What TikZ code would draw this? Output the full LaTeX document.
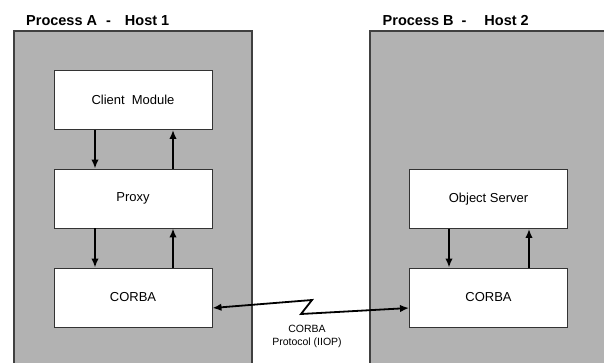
\documentclass[tikz,border=0pt]{standalone}
\usepackage{fontspec}
\setmainfont{Liberation Sans}
\usetikzlibrary{arrows.meta}
\usetikzlibrary{calc}
\tikzset{>={Latex[length=9pt,width=7.5pt]}}
\tikzset{
    host/.style={fill=black!30, draw=black!75, line width=1.2pt},
    module/.style={draw=black!80, fill=white, line width=0.9pt,
        minimum width=158pt, minimum height=59pt, inner sep=0pt,
        font=\fontsize{13}{15}\selectfont},
    flow/.style={->, line width=1.8pt},
    title/.style={anchor=west, inner sep=0pt, font=\fontsize{14.5}{17}\selectfont\bfseries},
}

\begin{document}
\begin{tikzpicture}[x=1pt, y=-1pt]
    \useasboundingbox (0,0) rectangle (604,363);
    \fill[white] (0,0) rectangle (604,363);
    \draw[host] (14,420) -- (14,31) -- (252,31) -- (252,420);
    \draw[host] (370,420) -- (370,31) -- (660,31) -- (660,420);
    \node[title] (titleA) at (26,21) {Process A\hspace{9pt}-\hspace{14pt}Host 1};
    \node[title] (titleB) at (382.5,21) {Process B\hspace{8pt}-\hspace{18pt}Host 2};

    \node[module] (client) at (133,100) {Client\hspace{7pt}Module};
    \node[module] (proxy) at (133,198.5) {Proxy};
    \node[module] (corbaA) at (133,297.5) {CORBA};
    \node[module] (server) at (488.5,199) {Object Server};
    \node[module] (corbaB) at (488.5,297.5) {CORBA};

    \draw[flow] ([xshift=-38pt]client.south) -- ([xshift=-38pt]proxy.north);
    \draw[flow] ([xshift=40pt]proxy.north) -- ([xshift=40pt]client.south);
    \draw[flow] ([xshift=-38pt]proxy.south) -- ([xshift=-38pt]corbaA.north);
    \draw[flow] ([xshift=40pt]corbaA.north) -- ([xshift=40pt]proxy.south);
    \draw[flow] ([xshift=-39.5pt]server.south) -- ([xshift=-39.5pt]corbaB.north);
    \draw[flow] ([xshift=40.5pt]corbaB.north) -- ([xshift=40.5pt]server.south);

    \coordinate (kinkA) at (312,300);
    \coordinate (kinkB) at (301,314);
    \draw[flow, <->] ([yshift=-10.5pt]corbaA.east) -- (kinkA) -- (kinkB) -- ([yshift=-10.5pt]corbaB.west);
    \node[align=center, inner sep=0pt, font=\fontsize{10.5}{13}\selectfont] (iiop) at (307,336.5) {CORBA\\Protocol (IIOP)};
\end{tikzpicture}
\end{document}
